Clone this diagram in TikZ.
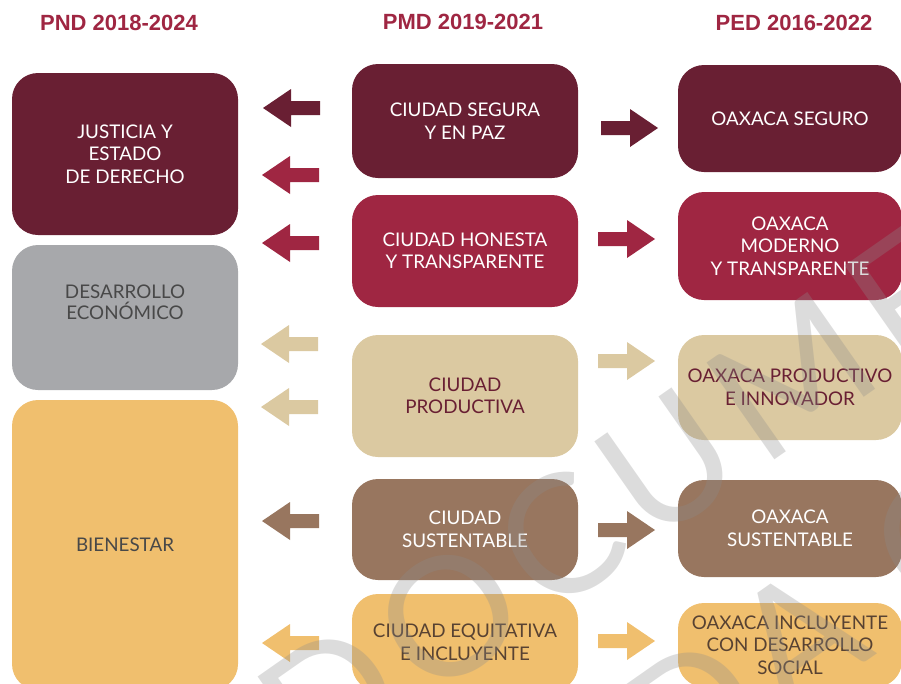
\documentclass[tikz,border=0pt]{standalone}
\usepackage{fontspec}
\newfontfamily\boxfont{Lato}
\newfontfamily\headfont{Liberation Sans}
\newfontfamily\markfont[LetterSpace=9]{Lato}
\usetikzlibrary{positioning}
\definecolor{vino}{RGB}{105,31,51}
\definecolor{guinda}{RGB}{159,38,66}
\definecolor{gris}{RGB}{167,168,171}
\definecolor{arena}{RGB}{219,201,161}
\definecolor{cafe}{RGB}{152,118,95}
\definecolor{ocre}{RGB}{240,191,110}
\definecolor{tinta}{RGB}{72,72,72}
\definecolor{tintacafe}{RGB}{88,66,50}
\tikzset{
  eje/.style={rounded corners=26pt, align=center, inner sep=0pt, minimum width=226pt,
    font=\boxfont\fontsize{18.8}{22.5}\selectfont},
  titulo/.style={font=\headfont\bfseries\fontsize{22}{26}\selectfont, text=guinda},
  marca/.style={font=\markfont\fontsize{165}{165}\selectfont, text=black!45, inner sep=0pt},
  izq/.pic={\fill (0,0) -- (28,-19) -- (28,-7) -- (57,-7) -- (57,7) -- (28,7) -- (28,19) -- cycle;},
  der/.pic={\fill (0,0) -- (-28,-19) -- (-28,-7) -- (-57,-7) -- (-57,7) -- (-28,7) -- (-28,19) -- cycle;}
}
\begin{document}
\begin{tikzpicture}[x=1pt, y=-1pt]
			\useasboundingbox (0,0) rectangle (901,683);
			\clip (0,0) rectangle (901,683);
			
			% Headers of the three plans
			\node[titulo] (pnd) at (119,23) {PND 2018-2024};
			\node[titulo] (pmd) at (463,22) {PMD 2019-2021};
			\node[titulo] (ped) at (794,23) {PED 2016-2022};
			
			% Left column: PND
			\node[eje, fill=vino, text=white, minimum height=162pt] (justicia) at (125,154) {JUSTICIA Y\\ESTADO\\DE DERECHO};
			\node[eje, fill=gris, minimum height=145pt] (desarrollo) at (125,317.5) {};
			\node[align=center, text=tinta, font=\boxfont\fontsize{18.8}{21}\selectfont] (desarrollo-txt) at (125,302.5) {DESARROLLO\\ECONÓMICO};
			\node[eje, fill=ocre, text=tinta, minimum height=290pt] (bienestar) at (125,545) {BIENESTAR};
			
			% Middle column: PMD
			\node[eje, fill=vino, text=white, minimum height=114pt] (segura) at (465,121) {CIUDAD SEGURA\\Y EN PAZ};
			\node[eje, fill=guinda, text=white, minimum height=112pt] (honesta) at (465,251) {CIUDAD HONESTA\\Y TRANSPARENTE};
			\node[eje, fill=arena, text=vino, minimum height=122pt] (productiva) at (465,396) {CIUDAD\\PRODUCTIVA};
			\node[eje, fill=cafe, text=white, minimum height=101pt] (sustentable) at (465,529.5) {CIUDAD\\SUSTENTABLE};
			\node[eje, fill=ocre, text=tintacafe, minimum height=97pt] (equitativa) at (465,642.5) {CIUDAD EQUITATIVA\\E INCLUYENTE};
			
			% Right column: PED
			\node[eje, fill=vino, text=white, minimum width=224pt, minimum height=107pt] (oseguro) at (790,118.5) {OAXACA SEGURO};
			\node[eje, fill=guinda, text=white, minimum width=224pt, minimum height=108pt] (omoderno) at (790,246) {OAXACA\\MODERNO\\Y TRANSPARENTE};
			\node[eje, fill=arena, text=vino, minimum width=224pt, minimum height=105pt] (oproductivo) at (790,387.5) {OAXACA PRODUCTIVO\\E INNOVADOR};
			\node[eje, fill=cafe, text=white, minimum width=224pt, minimum height=97pt] (osustentable) at (790,528.5) {OAXACA\\SUSTENTABLE};
			\node[eje, fill=ocre, text=tintacafe, minimum width=224pt, minimum height=84pt] (oincluyente) at (790,645) {OAXACA INCLUYENTE\\CON DESARROLLO\\SOCIAL};
			
			% Arrows towards the PND
			\pic[vino] at (263,108) {izq};
			\pic[guinda] at (262,175) {izq};
			\pic[guinda] at (262,243) {izq};
			\pic[arena] at (261,344) {izq};
			\pic[arena] at (261,407) {izq};
			\pic[cafe] at (262,521) {izq};
			\pic[ocre] at (262,643) {izq};
			
			% Arrows towards the PED
			\pic[vino] at (658,128) {der};
			\pic[guinda] at (655,239) {der};
			\pic[arena] at (655,361) {der};
			\pic[cafe] at (655,530) {der};
			\pic[ocre] at (655,641) {der};
			
			% Watermark
			\begin{scope}[opacity=0.3]
			\node[marca, anchor=base west, rotate=35] (marca1) at (313,783) {DOCUMENTO};
			\node[marca, anchor=base west, rotate=35] (marca2) at (674,796) {DA C};
			\end{scope}
\end{tikzpicture}
\end{document}
